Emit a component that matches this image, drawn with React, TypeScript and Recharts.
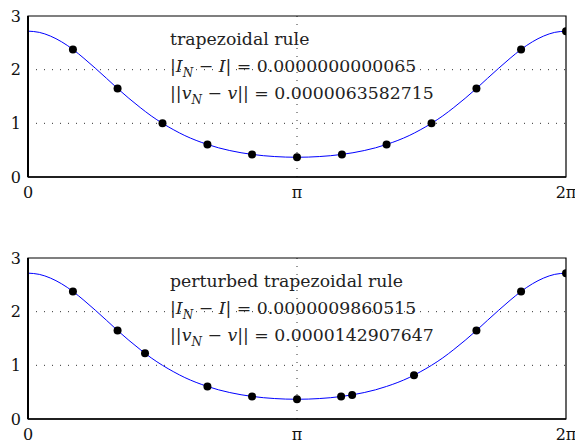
import React from 'react';
import {
  ComposedChart,
  Line,
  Scatter,
  XAxis,
  YAxis,
  CartesianGrid,
  ReferenceArea,
} from 'recharts';

// x positions in multiples of pi
const curveX = [
  0, 0.042, 0.083, 0.125, 0.167, 0.208, 0.25, 0.292, 0.333, 0.375, 0.417, 0.458, 0.5,
  0.542, 0.583, 0.625, 0.667, 0.708, 0.75, 0.792, 0.833, 0.875, 0.917, 0.958, 1,
  1.042, 1.083, 1.125, 1.167, 1.208, 1.25, 1.292, 1.333, 1.375, 1.417, 1.458, 1.5,
  1.542, 1.583, 1.625, 1.667, 1.708, 1.75, 1.792, 1.833, 1.875, 1.917, 1.958, 2,
];
const curveY = [
  2.718, 2.695, 2.627, 2.519, 2.377, 2.211, 2.028, 1.838, 1.649, 1.466, 1.295, 1.139, 1.0,
  0.878, 0.772, 0.682, 0.607, 0.544, 0.493, 0.452, 0.421, 0.397, 0.381, 0.371, 0.368,
  0.371, 0.381, 0.397, 0.421, 0.452, 0.493, 0.544, 0.607, 0.682, 0.772, 0.878, 1.0,
  1.139, 1.295, 1.466, 1.649, 1.838, 2.028, 2.211, 2.377, 2.519, 2.627, 2.695, 2.718,
];

const trapX = [0.167, 0.333, 0.5, 0.667, 0.833, 1, 1.167, 1.333, 1.5, 1.667, 1.833, 2];
const trapY = [2.377, 1.649, 1.0, 0.607, 0.421, 0.368, 0.421, 0.607, 1.0, 1.649, 2.377, 2.718];

const pertX = [0.167, 0.333, 0.435, 0.667, 0.833, 1, 1.164, 1.205, 1.435, 1.667, 1.833, 2];
const pertY = [2.377, 1.649, 1.224, 0.607, 0.421, 0.368, 0.42, 0.449, 0.817, 1.649, 2.377, 2.718];

const xTicks = [0, 1, 2];
const xTickLabels = ['0', 'π', '2π'];
const yTicks = [0, 1, 2, 3];

const panels = [
  {
    title: 'trapezoidal rule',
    errI: '0.0000000000065',
    errV: '0.0000063582715',
    px: trapX,
    py: trapY,
  },
  {
    title: 'perturbed trapezoidal rule',
    errI: '0.0000009860515',
    errV: '0.0000142907647',
    px: pertX,
    py: pertY,
  },
];

const curveData = curveX.map((x, i) => ({ x, y: curveY[i] }));

const FONT = '"DejaVu Serif", serif';

function Sub({ children }: { children: React.ReactNode }) {
  return (
    <span style={{ fontSize: 12, fontStyle: 'italic', position: 'relative', top: 5 }}>{children}</span>
  );
}

function Panel({ panel, top }: { panel: (typeof panels)[number]; top: number }) {
  const points = panel.px.map((x, i) => ({ x, y: panel.py[i] }));
  const lineStyle: React.CSSProperties = {
    position: 'absolute',
    left: 170,
    whiteSpace: 'nowrap',
    fontFamily: FONT,
    fontSize: 17.3,
    lineHeight: '21px',
    color: '#222',
  };
  return (
    <div style={{ position: 'absolute', left: 0, top, width: 575, height: 221 }}>
      <ComposedChart width={575} height={221} margin={{ top: 16, right: 9, left: 0, bottom: 0 }}>
        <CartesianGrid
          horizontalValues={[1, 2]}
          verticalValues={[1]}
          stroke="#333"
          strokeDasharray="1 7"
        />
        <XAxis
          type="number"
          dataKey="x"
          domain={[0, 2]}
          ticks={xTicks}
          tickFormatter={(v: number) => xTickLabels[xTicks.indexOf(v)]}
          tickSize={0}
          tickMargin={10}
          height={44}
          axisLine={{ stroke: '#000', strokeWidth: 1.5 }}
          tick={{ fill: '#111', fontSize: 16, fontFamily: FONT }}
          allowDataOverflow
        />
        <YAxis
          type="number"
          domain={[0, 3]}
          ticks={yTicks}
          width={28}
          tickSize={0}
          tickMargin={7}
          axisLine={{ stroke: '#000', strokeWidth: 2 }}
          tick={{ fill: '#111', fontSize: 16, fontFamily: FONT }}
          allowDataOverflow
        />
        <ReferenceArea x1={0} x2={2} y1={0} y2={3} fill="none" stroke="#000" strokeWidth={1.2} />
        <Line
          data={curveData}
          dataKey="y"
          type="monotone"
          stroke="#0000ff"
          strokeWidth={1}
          dot={false}
          activeDot={false}
          isAnimationActive={false}
        />
        <Scatter
          data={points}
          dataKey="y"
          fill="#000"
          shape={(p: any) => <circle cx={p.cx} cy={p.cy} r={4} fill="#000" />}
          isAnimationActive={false}
        />
      </ComposedChart>
      <div style={{ ...lineStyle, top: 29 }}>{panel.title}</div>
      <div style={{ ...lineStyle, top: 56 }}>
        |<i>I</i>
        <Sub>N</Sub> − <i>I</i>| = {panel.errI}
      </div>
      <div style={{ ...lineStyle, top: 83 }}>
        ||<i>v</i>
        <Sub>N</Sub> − <i>v</i>|| = {panel.errV}
      </div>
    </div>
  );
}

export default function App() {
  return (
    <div
      style={{
        position: 'absolute',
        left: 0,
        top: 0,
        width: 575,
        height: 443,
        overflow: 'hidden',
        background: '#fff',
      }}
    >
      <Panel panel={panels[0]} top={0} />
      <Panel panel={panels[1]} top={242} />
    </div>
  );
}
